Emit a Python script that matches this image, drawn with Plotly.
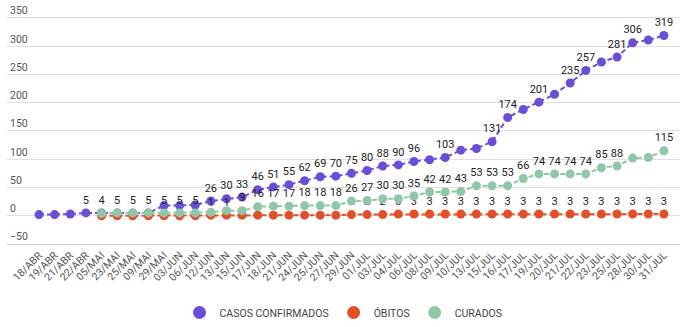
import plotly.graph_objects as go

dates = ["18/ABR", "19/ABR", "21/ABR", "22/ABR", "05/MAI", "23/MAI", "25/MAI", "09/MAI", "29/MAI",
         "03/JUN", "06/JUN", "12/JUN", "13/JUN", "15/JUN", "17/JUN", "18/JUN", "21/JUN", "24/JUN",
         "25/JUN", "27/JUN", "29/JUN", "01/JUL", "03/JUL", "04/JUL", "06/JUL", "08/JUL", "09/JUL",
         "10/JUL", "13/JUL", "15/JUL", "16/JUL", "17/JUL", "19/JUL", "20/JUL", "21/JUL", "22/JUL",
         "23/JUL", "25/JUL", "28/JUL", "30/JUL", "31/JUL"]

casos = [2, 2, 3, 5, 5, 5, 5, 5, 18, 18, 19, 26, 30, 33, 46, 51, 55, 62, 69, 70, 75, 80, 88, 90, 96,
         99, 103, 116, 119, 131, 174, 188, 201, 215, 235, 257, 272, 281, 306, 311, 319]
casos_lbl = [0, 0, 0, 1, 0, 0, 0, 0, 0, 0, 0, 1, 1, 1, 1, 1, 1, 1, 1, 1, 1, 1, 1, 1, 1,
             0, 1, 0, 0, 1, 1, 0, 1, 0, 1, 1, 0, 1, 1, 0, 1]

obitos = [None, None, None, None, 0, 0, 0, 0, 0, 0, 0, 1, 1, 1, 1, 1, 1, 1, 1, 1, 2, 2, 2, 3, 3,
          3, 3, 3, 3, 3, 3, 3, 3, 3, 3, 3, 3, 3, 3, 3, 3]
obitos_lbl = [0] * 11 + [1, 1] + [0] * 7 + [1] * 21

curados = [None, None, None, None, 4, 5, 5, 5, 5, 5, 5, 6, 9, 9, 16, 17, 17, 18, 18, 18, 26, 27, 30,
           30, 35, 42, 42, 43, 53, 53, 53, 66, 74, 74, 74, 74, 85, 88, 102, 103, 115]
curados_lbl = [0, 0, 0, 0, 1, 1, 1, 1, 1, 1, 1, 0, 0, 1, 1, 1, 1, 1, 1, 1, 1, 1, 1, 1, 1,
               1, 1, 1, 1, 1, 1, 1, 1, 1, 1, 1, 1, 1, 0, 0, 1]

names = ["CASOS CONFIRMADOS", "ÓBITOS", "CURADOS"]
colors = ["#6a4fd6", "#e2502a", "#8fc7a7"]
series = [casos, obitos, curados]
labels = [casos_lbl, obitos_lbl, curados_lbl]

fig = go.Figure()
for name, col, vals, lbl in zip(names, colors, series, labels):
    txt = [str(v) if (f and v is not None) else "" for v, f in zip(vals, lbl)]
    fig.add_trace(go.Scatter(
        x=dates, y=vals, mode="lines+markers+text", name=name, showlegend=False,
        line=dict(color=col, width=2, dash="5px,3px"),
        marker=dict(color=col, size=9),
        text=txt, textposition="top center",
        textfont=dict(family="Roboto", size=11, color="#222"),
        cliponaxis=False, connectgaps=False,
    ))
for name, col in zip(names, colors):
    fig.add_trace(go.Scatter(x=[None], y=[None], mode="markers", name=name,
                             marker=dict(color=col, size=13)))

# plot area: 350 gridline at y=18, -50 at y=245 (0.5675 px per unit)
fig.update_layout(
    width=680, height=327,
    margin=dict(l=7, r=0, t=4, b=82),
    paper_bgcolor="white", plot_bgcolor="white",
    font=dict(family="Roboto", color="#444"),
    legend=dict(orientation="h", x=0.5, xanchor="center", y=-0.288, yanchor="middle",
                font=dict(family="Roboto", size=10.5, color="#444"), itemwidth=30,
                tracegroupgap=0),
    xaxis=dict(type="category", range=[-2.05, 41.03], tickangle=-45,
               tickmode="array", tickvals=dates, ticktext=dates,
               tickfont=dict(family="Roboto", size=10.5, color="#555"),
               showgrid=False, showline=True, linecolor="#cccccc", ticks=""),
    yaxis=dict(range=[-50, 374.7], tickmode="array", tickvals=[-50, 0, 50, 100, 150, 200, 250, 300, 350],
               ticklabelposition="inside top",
               tickfont=dict(family="Roboto", size=10.5, color="#555"),
               gridcolor="#e0e0e0", zeroline=False, showline=False),
)

fig.write_html("out.html")
